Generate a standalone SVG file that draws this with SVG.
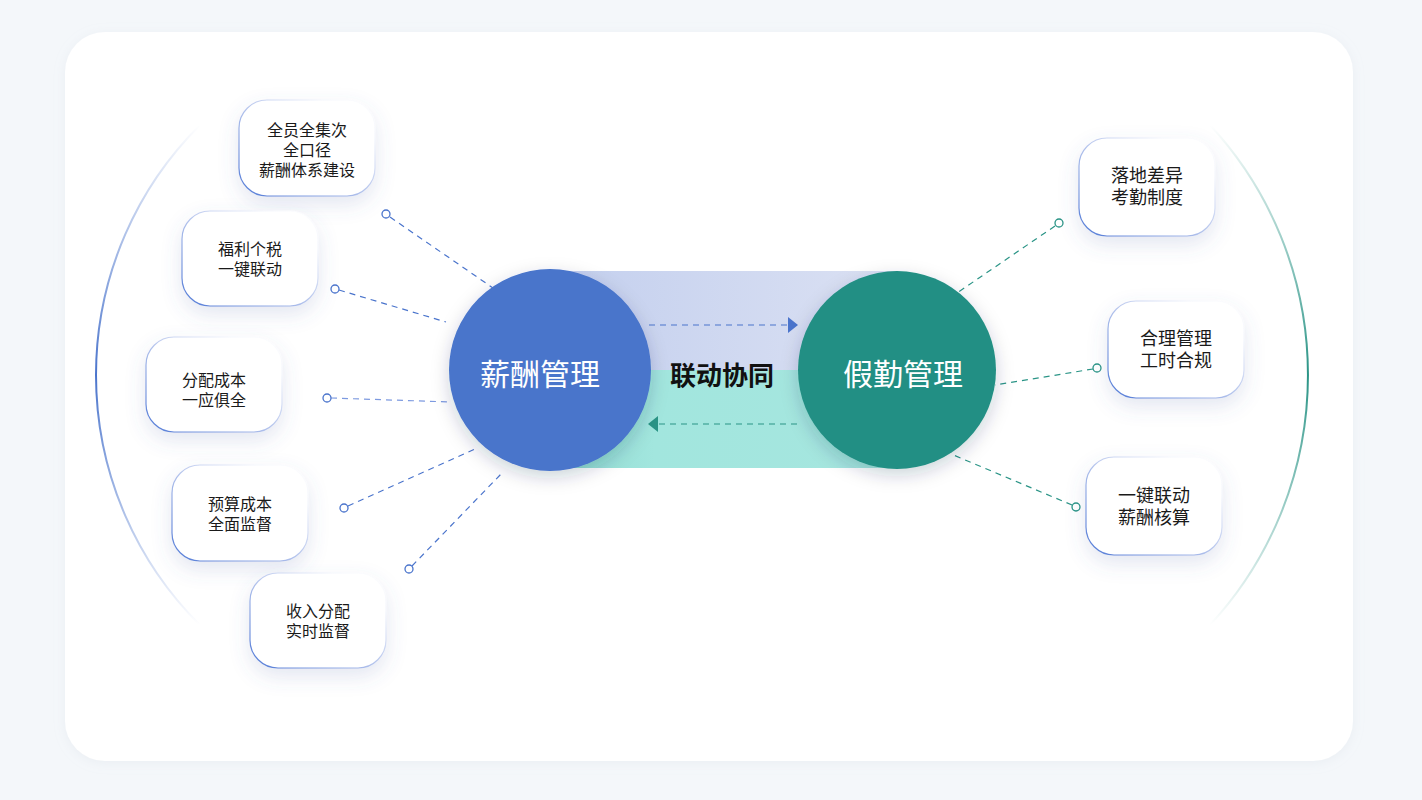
<svg xmlns="http://www.w3.org/2000/svg" width="1422" height="800" viewBox="0 0 1422 800">
<defs>
<style>
.box{fill:#ffffff;stroke:url(#boxStroke);stroke-width:1.2;filter:url(#boxShadow)}
.bt{font-family:"Liberation Sans","Noto Sans CJK SC",sans-serif;fill:#1a1a1a;text-anchor:middle}
.bl{font-size:16px}
.br{font-size:18px}
.cl{fill:none;stroke-width:1.2;stroke-dasharray:6 5}
.blue{stroke:#4a74cc}
.teal{stroke:#2a9486}
.dot{fill:#ffffff;stroke-width:1.3}
.ct{font-family:"Liberation Sans","Noto Sans CJK SC",sans-serif;fill:#ffffff;font-size:30px;text-anchor:middle}
</style>
<linearGradient id="boxStroke" x1="0" y1="1" x2="1" y2="0">
<stop offset="0" stop-color="#4f78d6"/>
<stop offset="0.45" stop-color="#aebfeb"/>
<stop offset="0.8" stop-color="#f4f6fc"/>
<stop offset="1" stop-color="#ffffff"/>
</linearGradient>
<filter id="boxShadow" x="-40%" y="-40%" width="180%" height="200%">
<feGaussianBlur in="SourceAlpha" stdDeviation="10"/>
<feOffset dx="0" dy="8" result="b"/>
<feFlood flood-color="#5468a8" flood-opacity="0.16"/>
<feComposite in2="b" operator="in"/>
<feMerge><feMergeNode/><feMergeNode in="SourceGraphic"/></feMerge>
</filter>
<filter id="circShadow" x="-50%" y="-50%" width="200%" height="200%">
<feGaussianBlur in="SourceAlpha" stdDeviation="9"/>
<feOffset dx="0" dy="6" result="b"/>
<feFlood flood-color="#1c2a4a" flood-opacity="0.2"/>
<feComposite in2="b" operator="in"/>
<feMerge><feMergeNode/><feMergeNode in="SourceGraphic"/></feMerge>
</filter>
<filter id="cardShadow" x="-5%" y="-5%" width="110%" height="110%">
<feGaussianBlur in="SourceAlpha" stdDeviation="6"/>
<feOffset dy="2" result="b"/>
<feFlood flood-color="#b0bccc" flood-opacity="0.15"/>
<feComposite in2="b" operator="in"/>
<feMerge><feMergeNode/><feMergeNode in="SourceGraphic"/></feMerge>
</filter>
<linearGradient id="arcL" x1="0" y1="0" x2="0" y2="1">
<stop offset="0" stop-color="#4a74cc" stop-opacity="0"/>
<stop offset="0.5" stop-color="#4a74cc" stop-opacity="1"/>
<stop offset="1" stop-color="#4a74cc" stop-opacity="0"/>
</linearGradient>
<linearGradient id="arcR" x1="0" y1="0" x2="0" y2="1">
<stop offset="0" stop-color="#2a9486" stop-opacity="0"/>
<stop offset="0.5" stop-color="#2a9486" stop-opacity="1"/>
<stop offset="1" stop-color="#2a9486" stop-opacity="0"/>
</linearGradient>
<linearGradient id="bandTop" x1="0" y1="0" x2="1" y2="0">
<stop offset="0" stop-color="#c3cfee"/>
<stop offset="1" stop-color="#dbe1f3"/>
</linearGradient>
<linearGradient id="bandBot" x1="0" y1="0" x2="1" y2="0">
<stop offset="0" stop-color="#8fdad0"/>
<stop offset="0.3" stop-color="#a2e6de"/>
<stop offset="1" stop-color="#a6e6df"/>
</linearGradient>
<marker id="arrB" viewBox="0 0 10 16" refX="9" refY="8" markerWidth="10" markerHeight="16" markerUnits="userSpaceOnUse" orient="auto">
<path d="M0,0 L10,8 L0,16 Z" fill="#4a74cc"/>
</marker>
<marker id="arrT" viewBox="0 0 10 16" refX="9" refY="8" markerWidth="10" markerHeight="16" markerUnits="userSpaceOnUse" orient="auto">
<path d="M0,0 L10,8 L0,16 Z" fill="#2a9486"/>
</marker>
</defs>

<rect x="0" y="0" width="1422" height="800" fill="#f4f7fa"/>
<rect x="65" y="32" width="1288" height="729" rx="40" fill="#ffffff" filter="url(#cardShadow)"/>

<g id="arcs">
<path d="M200,125 A352.5,352.5 0 0 0 200,625" fill="none" stroke="url(#arcL)" stroke-width="2"/>
<path d="M1210,125 A368,368 0 0 1 1210,625" fill="none" stroke="url(#arcR)" stroke-width="2"/>
</g>

<g id="band">
<rect x="550" y="271" width="347" height="100" fill="url(#bandTop)"/>
<rect x="550" y="370" width="347" height="98" fill="url(#bandBot)"/>
</g>

<g id="connectors">
<line class="cl blue" x1="390" y1="217" x2="493" y2="288"/>
<circle class="dot blue" cx="386" cy="214" r="4"/>
<line class="cl blue" x1="339" y1="290" x2="446" y2="322"/>
<circle class="dot blue" cx="335" cy="289" r="4"/>
<line class="cl blue" x1="331" y1="398" x2="451" y2="402" style="stroke:#7d9ae0"/>
<circle class="dot blue" cx="327" cy="398" r="4"/>
<line class="cl blue" x1="348" y1="506" x2="475" y2="449"/>
<circle class="dot blue" cx="344" cy="508" r="4"/>
<line class="cl blue" x1="412" y1="566" x2="502" y2="473"/>
<circle class="dot blue" cx="409" cy="569" r="4"/>
<line class="cl teal" x1="1055" y1="226" x2="957" y2="293"/>
<circle class="dot teal" cx="1059" cy="223" r="4"/>
<line class="cl teal" x1="1093" y1="369" x2="995" y2="385"/>
<circle class="dot teal" cx="1097" cy="368" r="4"/>
<line class="cl teal" x1="1072" y1="505" x2="951" y2="454"/>
<circle class="dot teal" cx="1076" cy="507" r="4"/>
<line x1="649" y1="325" x2="797" y2="325" stroke="#4a74cc" stroke-width="1.2" stroke-dasharray="6 5" marker-end="url(#arrB)"/>
<line x1="797" y1="424" x2="649" y2="424" stroke="#2a9486" stroke-width="1.2" stroke-dasharray="6 5" marker-end="url(#arrT)"/>
</g>

<g id="center-label">
<text x="722" y="385" font-family="'Liberation Sans','Noto Sans CJK SC',sans-serif" font-size="26" font-weight="bold" fill="#111111" text-anchor="middle">联动协同</text>
</g>

<g id="node-salary">
<circle cx="550" cy="370" r="101" fill="#4874cb" filter="url(#circShadow)"/>
<text class="ct" x="540" y="385">薪酬管理</text>
</g>
<g id="node-attendance">
<circle cx="897" cy="370" r="99" fill="#238f84" filter="url(#circShadow)"/>
<text class="ct" x="903" y="385">假勤管理</text>
</g>

<g id="box-l1">
<rect class="box" x="239" y="100" width="136" height="96" rx="28"/>
<text class="bt bl" x="307" y="136"><tspan x="307">全员全集次</tspan><tspan x="307" dy="20">全口径</tspan><tspan x="307" dy="20">薪酬体系建设</tspan></text>
</g>
<g id="box-l2">
<rect class="box" x="182" y="211" width="136" height="95" rx="28"/>
<text class="bt bl" x="250" y="255"><tspan x="250">福利个税</tspan><tspan x="250" dy="20">一键联动</tspan></text>
</g>
<g id="box-l3">
<rect class="box" x="146" y="337" width="136" height="95" rx="28"/>
<text class="bt bl" x="214" y="386"><tspan x="214">分配成本</tspan><tspan x="214" dy="20">一应俱全</tspan></text>
</g>
<g id="box-l4">
<rect class="box" x="172" y="465" width="136" height="96" rx="28"/>
<text class="bt bl" x="240" y="510"><tspan x="240">预算成本</tspan><tspan x="240" dy="20">全面监督</tspan></text>
</g>
<g id="box-l5">
<rect class="box" x="250" y="573" width="136" height="95" rx="28"/>
<text class="bt bl" x="318" y="617"><tspan x="318">收入分配</tspan><tspan x="318" dy="20">实时监督</tspan></text>
</g>

<g id="box-r1">
<rect class="box" x="1079" y="138" width="136" height="98" rx="28"/>
<text class="bt br" x="1147" y="182"><tspan x="1147">落地差异</tspan><tspan x="1147" dy="22">考勤制度</tspan></text>
</g>
<g id="box-r2">
<rect class="box" x="1108" y="301" width="136" height="97" rx="28"/>
<text class="bt br" x="1176" y="345"><tspan x="1176">合理管理</tspan><tspan x="1176" dy="22">工时合规</tspan></text>
</g>
<g id="box-r3">
<rect class="box" x="1086" y="457" width="136" height="98" rx="28"/>
<text class="bt br" x="1154" y="502"><tspan x="1154">一键联动</tspan><tspan x="1154" dy="22">薪酬核算</tspan></text>
</g>
</svg>
